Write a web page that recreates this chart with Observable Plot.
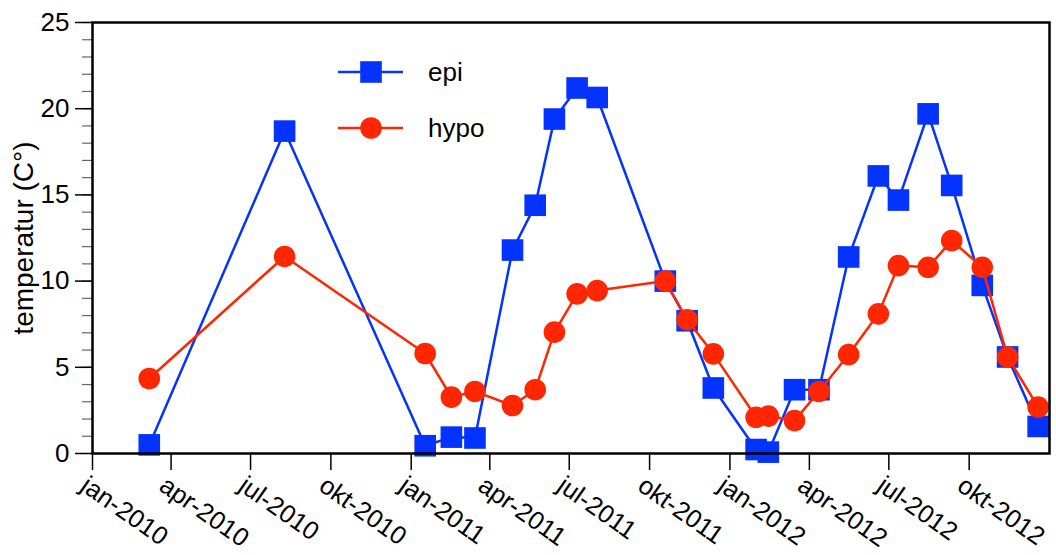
<!DOCTYPE html>
<html>
<head>
<meta charset="utf-8">
<script src="https://cdn.jsdelivr.net/npm/d3@7"></script>
<script src="https://cdn.jsdelivr.net/npm/@observablehq/plot@0.6"></script>
<style>
  html, body { margin: 0; padding: 0; background: white; }
  #wrap { position: relative; width: 1056px; height: 555px; font-family: "Liberation Sans", Arial, sans-serif; }
  #legend { position: absolute; left: 0; top: 0; pointer-events: none; }
</style>
</head>
<body>
<div id="wrap"></div>
<script>
// ---- data ----
const dates = [
  "2010-03-07","2010-08-09",
  "2011-01-17","2011-02-16","2011-03-15","2011-04-27","2011-05-23","2011-06-14","2011-07-10","2011-08-02",
  "2011-10-19","2011-11-13","2011-12-13",
  "2012-01-31","2012-02-14","2012-03-15","2012-04-12","2012-05-16","2012-06-19","2012-07-12","2012-08-15",
  "2012-09-11","2012-10-16","2012-11-14","2012-12-19"
];
const epi = [0.5, 18.7, 0.45, 0.95, 0.9, 11.8, 14.4, 19.4, 21.2, 20.65, 10.0, 7.7, 3.8,
             0.23, 0.08, 3.7, 3.7, 11.4, 16.1, 14.7, 19.7, 15.55, 9.75, 5.6, 1.57];
const hypo = [4.35, 11.43, 5.8, 3.27, 3.6, 2.78, 3.7, 7.04, 9.26, 9.45, 10.0, 7.76, 5.78,
              2.1, 2.17, 1.91, 3.6, 5.74, 8.1, 10.9, 10.8, 12.35, 10.8, 5.6, 2.69];
const seriesNames = ["epi", "hypo"];
const seriesColors = ["#0433ff", "#ff2600"];
const quarterNames = ["jan", "apr", "jul", "okt"];
const yLabel = "temperatur (C°)";
const xDomain = ["2010-01-01", "2013-01-01"];
const yTicks = [0, 5, 10, 15, 20, 25];

// ---- build ----
const parse = d3.utcParse("%Y-%m-%d");
const epiData = dates.map((d, i) => ({date: parse(d), value: epi[i]}));
const hypoData = dates.map((d, i) => ({date: parse(d), value: hypo[i]}));
const xTicks = d3.utcMonth.every(3).range(parse(xDomain[0]), parse(xDomain[1]));
const minorTicks = d3.range(0, 26);
const font = "'Liberation Sans', Arial, sans-serif";
const fmtX = d => quarterNames[d.getUTCMonth() / 3] + "-" + d.getUTCFullYear();

const chart = Plot.plot({
  width: 1056,
  height: 555,
  marginLeft: 92,
  marginRight: 7,
  marginTop: 22,
  marginBottom: 102,
  style: {fontFamily: font, fontSize: "26px", background: "white", color: "black"},
  x: {type: "utc", domain: xDomain.map(parse)},
  y: {domain: [0, 25]},
  marks: [
    Plot.axisY(minorTicks, {tickSize: 10, text: null, label: null, stroke: "#666", strokeWidth: 1.2}),
    Plot.axisY(yTicks, {tickSize: 17, tickPadding: 6, label: null, strokeWidth: 1.5, fontSize: 26}),
    Plot.axisX(xTicks, {tickSize: 17, text: null, label: null, strokeWidth: 1.5}),
    Plot.text(xTicks, {
      x: d => d, text: fmtX, frameAnchor: "bottom", rotate: 35,
      textAnchor: "start", lineAnchor: "top", dx: -3, dy: 21, fontSize: 25.5
    }),
    Plot.text([yLabel], {frameAnchor: "left", rotate: -90, dx: -68, fontSize: 28,
      textAnchor: "middle", lineAnchor: "middle"}),
    Plot.line(epiData, {x: "date", y: "value", stroke: seriesColors[0], strokeWidth: 2.5}),
    Plot.dot(epiData, {x: "date", y: "value", symbol: "square", r: 12.2, fill: seriesColors[0], stroke: "none"}),
    Plot.line(hypoData, {x: "date", y: "value", stroke: seriesColors[1], strokeWidth: 2.5}),
    Plot.dot(hypoData, {x: "date", y: "value", symbol: "circle", r: 10.8, fill: seriesColors[1], stroke: "none"}),
    Plot.frame({stroke: "black", strokeWidth: 2.5})
  ]
});
document.getElementById("wrap").appendChild(chart);

// ---- legend (overlay) ----
const ns = "http://www.w3.org/2000/svg";
const leg = document.createElementNS(ns, "svg");
leg.setAttribute("id", "legend");
leg.setAttribute("width", 1056);
leg.setAttribute("height", 555);
seriesNames.forEach((name, i) => {
  const cy = 72 + i * 56;
  const line = document.createElementNS(ns, "line");
  line.setAttribute("x1", 338); line.setAttribute("x2", 403);
  line.setAttribute("y1", cy); line.setAttribute("y2", cy);
  line.setAttribute("stroke", seriesColors[i]); line.setAttribute("stroke-width", 2.5);
  leg.appendChild(line);
  let sym;
  if (i === 0) {
    sym = document.createElementNS(ns, "rect");
    sym.setAttribute("x", 371 - 10.8); sym.setAttribute("y", cy - 10.8);
    sym.setAttribute("width", 21.6); sym.setAttribute("height", 21.6);
  } else {
    sym = document.createElementNS(ns, "circle");
    sym.setAttribute("cx", 371); sym.setAttribute("cy", cy); sym.setAttribute("r", 10.8);
  }
  sym.setAttribute("fill", seriesColors[i]);
  leg.appendChild(sym);
  const t = document.createElementNS(ns, "text");
  t.setAttribute("x", 428); t.setAttribute("y", cy);
  t.setAttribute("dy", "0.35em");
  t.setAttribute("font-size", 26);
  t.setAttribute("font-family", font);
  t.textContent = name;
  leg.appendChild(t);
});
document.getElementById("wrap").appendChild(leg);
</script>
</body>
</html>
